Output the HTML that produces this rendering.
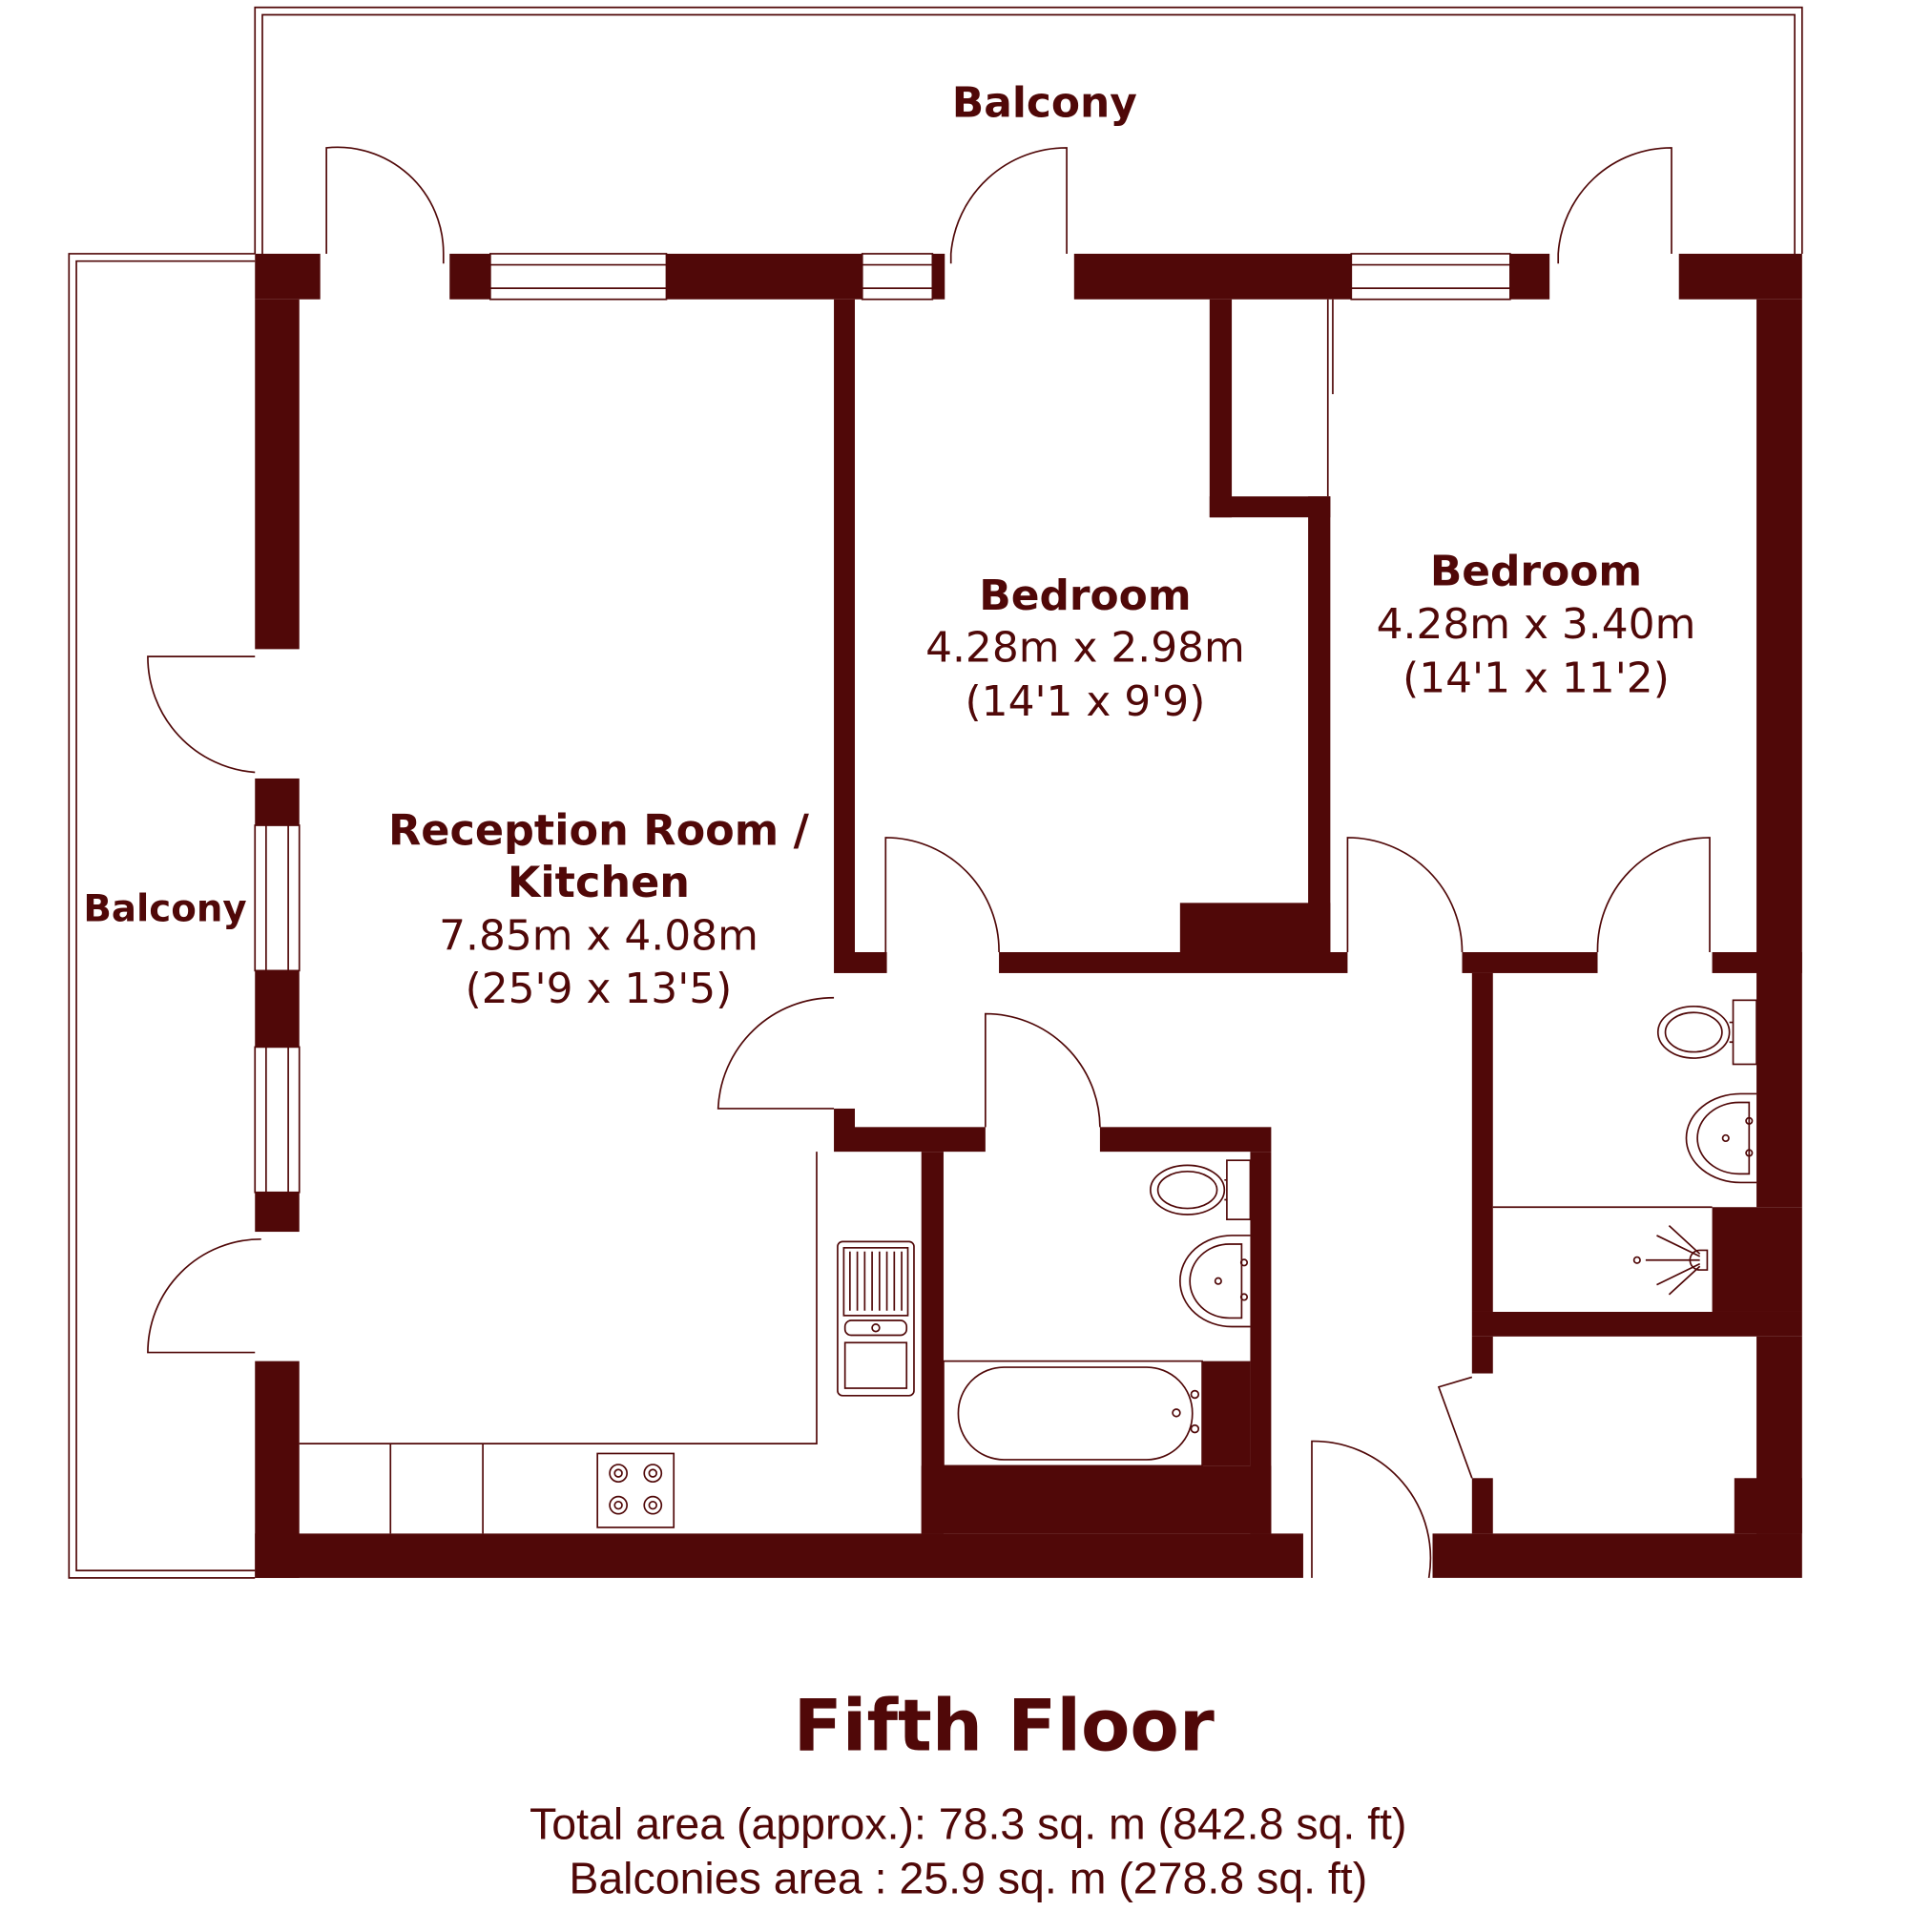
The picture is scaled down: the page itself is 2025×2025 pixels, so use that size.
<!DOCTYPE html>
<html><head><meta charset="utf-8"><style>
html,body{margin:0;padding:0;background:#fff;}
svg{display:block;}
text{fill:#500808;}
</style></head><body>
<svg width="2025" height="2025" viewBox="0 0 1552 1552" xmlns="http://www.w3.org/2000/svg">
<g transform="scale(0.9895)">
<g fill="none" stroke="#500808" stroke-width="1.3">
<path d="M207 206 V6 H1463 V206"/>
<path d="M213 206 V12 H1457 V206"/>
<path d="M207 206 H56 V1281 H207"/>
<path d="M207 212 H62 V1275 H207"/>
<rect x="398" y="206" width="143" height="37"/><line x1="398" y1="215" x2="541" y2="215"/><line x1="398" y1="234" x2="541" y2="234"/>
<rect x="700" y="206" width="57" height="37"/><line x1="700" y1="215" x2="757" y2="215"/><line x1="700" y1="234" x2="757" y2="234"/>
<rect x="1097" y="206" width="129" height="37"/><line x1="1097" y1="215" x2="1226" y2="215"/><line x1="1097" y1="234" x2="1226" y2="234"/>
<rect x="207" y="670" width="36" height="118"/><line x1="216" y1="670" x2="216" y2="788"/><line x1="234" y1="670" x2="234" y2="788"/>
<rect x="207" y="850" width="36" height="118"/><line x1="216" y1="850" x2="216" y2="968"/><line x1="234" y1="850" x2="234" y2="968"/>
<path d="M265 206 V120 A86 86 0 0 1 360 206 V214"/>
<path d="M866 206 V120 A94 94 0 0 0 772 206 V214"/>
<path d="M1357 206 V120 A92 92 0 0 0 1265 206 V214"/>
<path d="M207 533 H120 A94 94 0 0 0 207 627"/>
<path d="M207 1098 H120 A92 92 0 0 1 212 1006"/>
<path d="M719 773 V680 A92 92 0 0 1 811 773"/>
<path d="M1094 773 V680 A93 93 0 0 1 1187 773"/>
<path d="M1388 773 V680 A91 91 0 0 0 1297 773"/>
<path d="M677 900 H583 A94 94 0 0 1 677 810"/>
<path d="M800 915 V823 A93 93 0 0 1 893 915"/>
<path d="M1065 1281 V1170 A95 95 0 0 1 1160 1281"/>
<path d="M1195 1118 L1168 1126 L1195 1200"/>
<line x1="1078" y1="243" x2="1078" y2="403"/><line x1="1082" y1="243" x2="1082" y2="320"/>
<path d="M663 935 V1172 H243"/>
<line x1="317" y1="1172" x2="317" y2="1245"/><line x1="392" y1="1172" x2="392" y2="1245"/>
<rect x="680" y="1008" width="62" height="125" rx="4"/>
<rect x="685" y="1013" width="52" height="55"/>
<path d="M690 1016 V1064 M696 1016 V1064 M702 1016 V1064 M708 1016 V1064 M714 1016 V1064 M720 1016 V1064 M726 1016 V1064 M732 1016 V1064"/>
<rect x="686" y="1072" width="50" height="12" rx="5"/><circle cx="711" cy="1078" r="3"/>
<rect x="686" y="1090" width="50" height="37"/>
<rect x="485" y="1180" width="62" height="60"/>
<circle cx="502" cy="1196" r="7"/><circle cx="530" cy="1196" r="7"/><circle cx="502" cy="1222" r="7"/><circle cx="530" cy="1222" r="7"/>
<circle cx="502" cy="1196" r="3"/><circle cx="530" cy="1196" r="3"/><circle cx="502" cy="1222" r="3"/><circle cx="530" cy="1222" r="3"/>
<rect x="996" y="942" width="19" height="48"/>
<ellipse cx="964" cy="966" rx="30" ry="20"/><ellipse cx="964" cy="966" rx="24" ry="15"/>
<path d="M994 958 H996 M994 974 H996"/>
<path d="M1015 1003 H1000 A42 37 0 0 0 1000 1077 H1015"/>
<path d="M1008 1010 H998 A32 30 0 0 0 998 1070 H1008 Z"/>
<circle cx="989" cy="1040" r="2.5"/><circle cx="1010" cy="1025" r="2.5"/><circle cx="1010" cy="1053" r="2.5"/>
<rect x="766" y="1105" width="210" height="85"/>
<rect x="778" y="1110" width="190" height="75" rx="37"/>
<circle cx="955" cy="1147" r="3"/><circle cx="970" cy="1132" r="3"/><circle cx="970" cy="1160" r="3"/>
<rect x="1407" y="812" width="19" height="52"/>
<ellipse cx="1375" cy="838" rx="29" ry="21"/><ellipse cx="1375" cy="838" rx="23" ry="16"/>
<path d="M1404 830 H1407 M1404 846 H1407"/>
<path d="M1426 888 H1413 A44 36 0 0 0 1413 960 H1426"/>
<path d="M1420 895 H1412 A34 29 0 0 0 1412 953 H1420 Z"/>
<circle cx="1401" cy="924" r="2.5"/><circle cx="1420" cy="910" r="2.5"/><circle cx="1420" cy="936" r="2.5"/>
<line x1="1212" y1="980" x2="1390" y2="980"/>
<circle cx="1329" cy="1023" r="2.5"/>
<path d="M1336 1023 H1380 M1345 1003 L1380 1020 M1345 1043 L1380 1026 M1355 995 L1380 1018 M1355 1051 L1380 1028"/>
<path d="M1380 1015 H1386 V1031 H1380 A8 8 0 0 1 1380 1015 Z"/>
</g>
<g fill="#500808">
<rect x="207" y="206" width="53" height="37"/>
<rect x="365" y="206" width="33" height="37"/>
<rect x="541" y="206" width="159" height="37"/>
<rect x="757" y="206" width="10" height="37"/>
<rect x="872" y="206" width="225" height="37"/>
<rect x="1226" y="206" width="32" height="37"/>
<rect x="1363" y="206" width="100" height="37"/>
<rect x="207" y="243" width="36" height="284"/>
<rect x="207" y="632" width="36" height="38"/>
<rect x="207" y="788" width="36" height="62"/>
<rect x="207" y="968" width="36" height="32"/>
<rect x="207" y="1105" width="36" height="176"/>
<rect x="207" y="1245" width="851" height="36"/>
<rect x="1163" y="1245" width="300" height="36"/>
<rect x="1426" y="243" width="37" height="547"/>
<rect x="1390" y="773" width="73" height="17"/>
<rect x="1426" y="790" width="37" height="190"/>
<rect x="1390" y="980" width="73" height="85"/>
<rect x="1195" y="1065" width="268" height="20"/>
<rect x="1426" y="1085" width="37" height="160"/>
<rect x="1408" y="1200" width="55" height="45"/>
<rect x="677" y="243" width="17" height="547"/>
<rect x="694" y="773" width="26" height="17"/>
<rect x="811" y="773" width="283" height="17"/>
<rect x="958" y="733" width="122" height="40"/>
<rect x="1062" y="403" width="18" height="370"/>
<rect x="982" y="243" width="18" height="177"/>
<rect x="982" y="403" width="98" height="17"/>
<rect x="1187" y="773" width="110" height="17"/>
<rect x="1195" y="790" width="17" height="275"/>
<rect x="1195" y="1085" width="17" height="30"/>
<rect x="1195" y="1200" width="17" height="45"/>
<rect x="677" y="900" width="17" height="35"/>
<rect x="694" y="915" width="106" height="20"/>
<rect x="893" y="915" width="139" height="20"/>
<rect x="748" y="935" width="18" height="310"/>
<rect x="1015" y="935" width="17" height="310"/>
<rect x="748" y="1190" width="284" height="55"/>
<rect x="976" y="1105" width="39" height="85"/>
</g>
<g font-family="'DejaVu Sans', Verdana, sans-serif" text-anchor="middle">
<text x="848" y="95" font-size="34" font-weight="bold">Balcony</text>
<text x="134" y="748" font-size="30" font-weight="bold">Balcony</text>
<text x="881" y="495" font-size="34" font-weight="bold">Bedroom</text>
<text x="881" y="537" font-size="34">4.28m x 2.98m</text>
<text x="881" y="581" font-size="34">(14'1 x 9'9)</text>
<text x="1247" y="475" font-size="34" font-weight="bold">Bedroom</text>
<text x="1247" y="518" font-size="34">4.28m x 3.40m</text>
<text x="1247" y="562" font-size="34">(14'1 x 11'2)</text>
<text x="486" y="686" font-size="34.5" font-weight="bold">Reception Room /</text>
<text x="486" y="728" font-size="34.5" font-weight="bold">Kitchen</text>
<text x="486" y="771" font-size="34">7.85m x 4.08m</text>
<text x="486" y="814" font-size="34">(25'9 x 13'5)</text>
<text x="815" y="1421" font-size="58" font-weight="bold">Fifth Floor</text>
<text x="0" y="0" font-size="1"></text>
</g>
<g font-family="'Liberation Sans', Arial, sans-serif" text-anchor="middle" font-size="36">
<text x="786" y="1493">Total area (approx.): 78.3 sq. m (842.8 sq. ft)</text>
<text x="786" y="1537">Balconies area : 25.9 sq. m (278.8 sq. ft)</text>
</g>
</g>
</svg>
</body></html>
